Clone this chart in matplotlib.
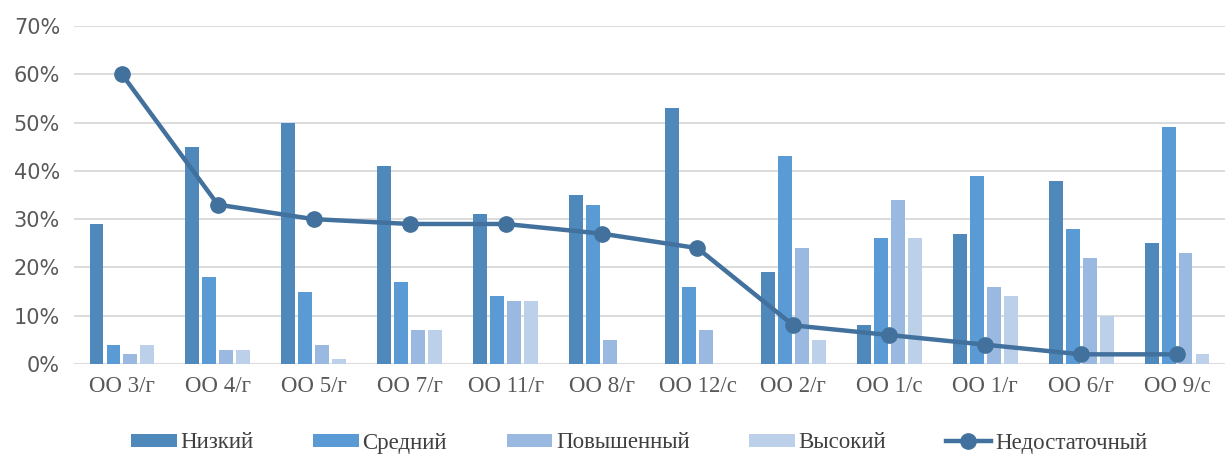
import numpy as np
import matplotlib.pyplot as plt

categories = ['ОО 3/г', 'ОО 4/г', 'ОО 5/г', 'ОО 7/г', 'ОО 11/г', 'ОО 8/г',
              'ОО 12/с', 'ОО 2/г', 'ОО 1/с', 'ОО 1/г', 'ОО 6/г', 'ОО 9/с']
low = [29, 45, 50, 41, 31, 35, 53, 19, 8, 27, 38, 25]
medium = [4, 18, 15, 17, 14, 33, 16, 43, 26, 39, 28, 49]
raised = [2, 3, 4, 7, 13, 5, 7, 24, 34, 16, 22, 23]
high = [4, 3, 1, 7, 13, 0, 0, 5, 26, 14, 10, 2]
insufficient = [60, 33, 30, 29, 29, 27, 24, 8, 6, 4, 2, 2]

series = [('Низкий', low, '#4F88BB'),
          ('Средний', medium, '#5B9BD5'),
          ('Повышенный', raised, '#9AB9E0'),
          ('Высокий', high, '#BDD0EA')]

fig = plt.figure(figsize=(12.29, 4.57), dpi=100)
ax = fig.add_axes([74 / 1229, 93 / 457, 1151 / 1229, 338 / 457])

x = np.arange(len(categories))
bw = 0.177
handles = []
for i, (name, vals, col) in enumerate(series):
    h = ax.bar(x + (i - 1.5) * bw, np.array(vals) / 100, width=bw * 0.82,
               color=col, label=name, zorder=2)
    handles.append(h)

line, = ax.plot(x, np.array(insufficient) / 100, color='#41719C', lw=3.2,
                marker='o', markersize=11, label='Недостаточный', zorder=3)
handles.append(line)

ax.set_xlim(-0.5, len(categories) - 0.5)
ax.set_ylim(0, 0.7)
ax.set_yticks(np.arange(0, 0.71, 0.1))
ax.set_yticklabels([f'{int(round(v * 100))}%' for v in np.arange(0, 0.71, 0.1)],
                   fontsize=15, color='#595959')
ax.set_xticks(x)
ax.set_xticklabels(categories, family='Liberation Serif', fontsize=16.5, color='#595959')
ax.tick_params(axis='both', length=0)
ax.tick_params(axis='x', pad=9)
ax.tick_params(axis='y', pad=10)
ax.grid(axis='y', color='#D9D9D9', lw=1.3, zorder=0)
ax.set_axisbelow(True)
for s in ax.spines.values():
    s.set_visible(False)

fig.legend(handles=handles, loc='center', bbox_to_anchor=(0.52, 14 / 457), ncol=5,
           frameon=False, prop={'family': 'Liberation Serif', 'size': 16.5},
           handlelength=2.0, handleheight=0.5, handletextpad=0.15,
           columnspacing=2.6, labelcolor='#404040')

plt.savefig('out.png', dpi=100)
